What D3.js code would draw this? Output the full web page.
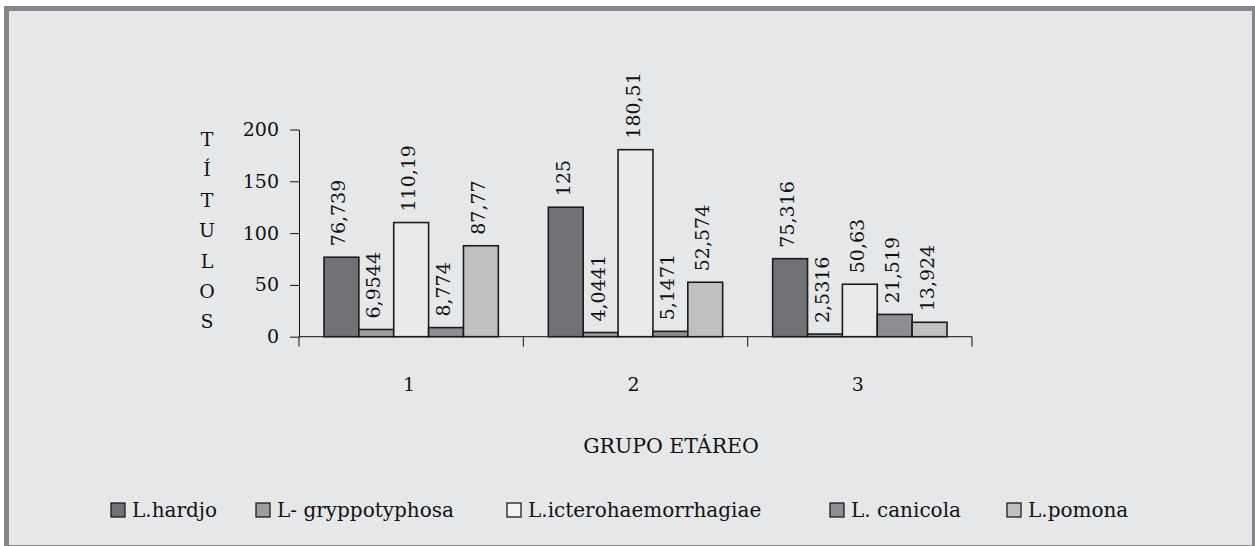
<!DOCTYPE html>
<html>
<head>
  <meta charset="utf-8">
  <title>Títulos por grupo etáreo</title>
  <style>
    body { margin: 0; background: #fff; }
    text { font-family: "DejaVu Serif", serif; fill: #111; }
  </style>
</head>
<body>
  <script src="https://cdn.jsdelivr.net/npm/d3@7"></script>
  <script type="text/javascript">

  // data
  var groups  = ['1', '2', '3'],
      series  = ['L.hardjo', 'L- gryppotyphosa', 'L.icterohaemorrhagiae', 'L. canicola', 'L.pomona'],
      hardjo  = [76.739, 125, 75.316],
      grippo  = [6.9544, 4.0441, 2.5316],
      ictero  = [110.19, 180.51, 50.63],
      canicola = [8.774, 5.1471, 21.519],
      pomona  = [87.77, 52.574, 13.924],
      labels  = [
        ['76,739', '6,9544', '110,19', '8,774', '87,77'],
        ['125', '4,0441', '180,51', '5,1471', '52,574'],
        ['75,316', '2,5316', '50,63', '21,519', '13,924']
      ],
      yTicks  = [0, 50, 100, 150, 200];

  var values = [hardjo, grippo, ictero, canicola, pomona];

  // layout
  var W = 1255, H = 546,
      fills = ['#717275', '#9c9d9f', '#eaeaec', '#8d8e91', '#bfc0c2'],
      legendFills = ['#717275', '#9c9d9f', '#f2f2f3', '#8d8e91', '#bfc0c2'],
      legendX = [111, 256, 507, 830, 1007];

  var svg = d3.select('body')
              .append('svg')
              .attr('width', W)
              .attr('height', H);

  // frame
  svg.append('rect')
     .attr('x', 4).attr('y', 6)
     .attr('width', W - 4).attr('height', H - 6)
     .attr('fill', '#858689');
  svg.append('rect')
     .attr('x', 9).attr('y', 11)
     .attr('width', 1243).attr('height', 534)
     .attr('fill', '#e6e7e9');

  var x = d3.scaleBand().domain(groups).range([299, 972]),
      xi = d3.scaleBand().domain(series).range([25, x.bandwidth() - 25]),
      y = d3.scaleLinear().domain([0, 200]).range([336.7, 129.5]);

  // y axis
  var yAxis = svg.append('g')
     .attr('transform', 'translate(299,0)')
     .call(d3.axisLeft(y).tickValues(yTicks).tickSize(9).tickSizeOuter(0).tickPadding(11));
  yAxis.selectAll('path, line').attr('stroke', '#111');
  yAxis.selectAll('text').style('font-size', '19px').attr('font-family', null);

  // x axis
  svg.append('line')
     .attr('x1', x.range()[0]).attr('x2', x.range()[1])
     .attr('y1', y(0)).attr('y2', y(0))
     .attr('stroke', '#111');

  var bounds = groups.map(function(g){ return x(g); }).concat([x.range()[1]]);
  svg.selectAll('line.xtick')
     .data(bounds)
     .enter()
     .append('line')
     .attr('class', 'xtick')
     .attr('x1', function(d){ return d; })
     .attr('x2', function(d){ return d; })
     .attr('y1', y(0))
     .attr('y2', y(0) + 10)
     .attr('stroke', '#111');

  svg.selectAll('text.xlab')
     .data(groups)
     .enter()
     .append('text')
     .attr('class', 'xlab')
     .attr('x', function(d){ return x(d) + x.bandwidth() / 2 - 2; })
     .attr('y', 391)
     .attr('text-anchor', 'middle')
     .style('font-size', '19px')
     .text(function(d){ return d; });

  // bars
  var cells = [];
  groups.forEach(function(g, gi){
    series.forEach(function(s, si){
      cells.push({ g: g, s: s, si: si, v: values[si][gi], label: labels[gi][si] });
    });
  });

  svg.selectAll('rect.bar')
     .data(cells)
     .enter()
     .append('rect')
     .attr('class', 'bar')
     .attr('x', function(d){ return x(d.g) + xi(d.s); })
     .attr('y', function(d){ return y(d.v); })
     .attr('width', xi.bandwidth())
     .attr('height', function(d){ return y(0) - y(d.v); })
     .attr('fill', function(d){ return fills[d.si]; })
     .attr('stroke', '#1c1c1c')
     .attr('stroke-width', 1.6);

  svg.selectAll('text.val')
     .data(cells)
     .enter()
     .append('text')
     .attr('class', 'val')
     .attr('transform', function(d){
       var cx = x(d.g) + xi(d.s) + xi.bandwidth() / 2 + 4,
           cy = y(d.v) - 11;
       return 'translate(' + cx + ',' + cy + ') rotate(-90)';
     })
     .style('font-size', '19px')
     .text(function(d){ return d.label; });

  // axis titles
  svg.selectAll('text.ytitle')
     .data('TÍTULOS'.split(''))
     .enter()
     .append('text')
     .attr('class', 'ytitle')
     .attr('x', 207)
     .attr('y', function(d, i){ return 146 + i * 30.4; })
     .attr('text-anchor', 'middle')
     .style('font-size', '19px')
     .text(function(d){ return d; });

  svg.append('text')
     .attr('x', 671)
     .attr('y', 453)
     .attr('text-anchor', 'middle')
     .style('font-size', '20.5px')
     .text('GRUPO ETÁREO');

  // legend
  var legend = svg.selectAll('g.legend')
     .data(series)
     .enter()
     .append('g')
     .attr('class', 'legend')
     .attr('transform', function(d, i){ return 'translate(' + legendX[i] + ',503)'; });

  legend.append('rect')
     .attr('width', 14).attr('height', 14)
     .attr('fill', function(d, i){ return legendFills[i]; })
     .attr('stroke', '#1c1c1c')
     .attr('stroke-width', 1.3);

  legend.append('text')
     .attr('x', 21)
     .attr('y', 14)
     .style('font-size', '20px')
     .text(function(d){ return d; });

  </script>
</body>
</html>
